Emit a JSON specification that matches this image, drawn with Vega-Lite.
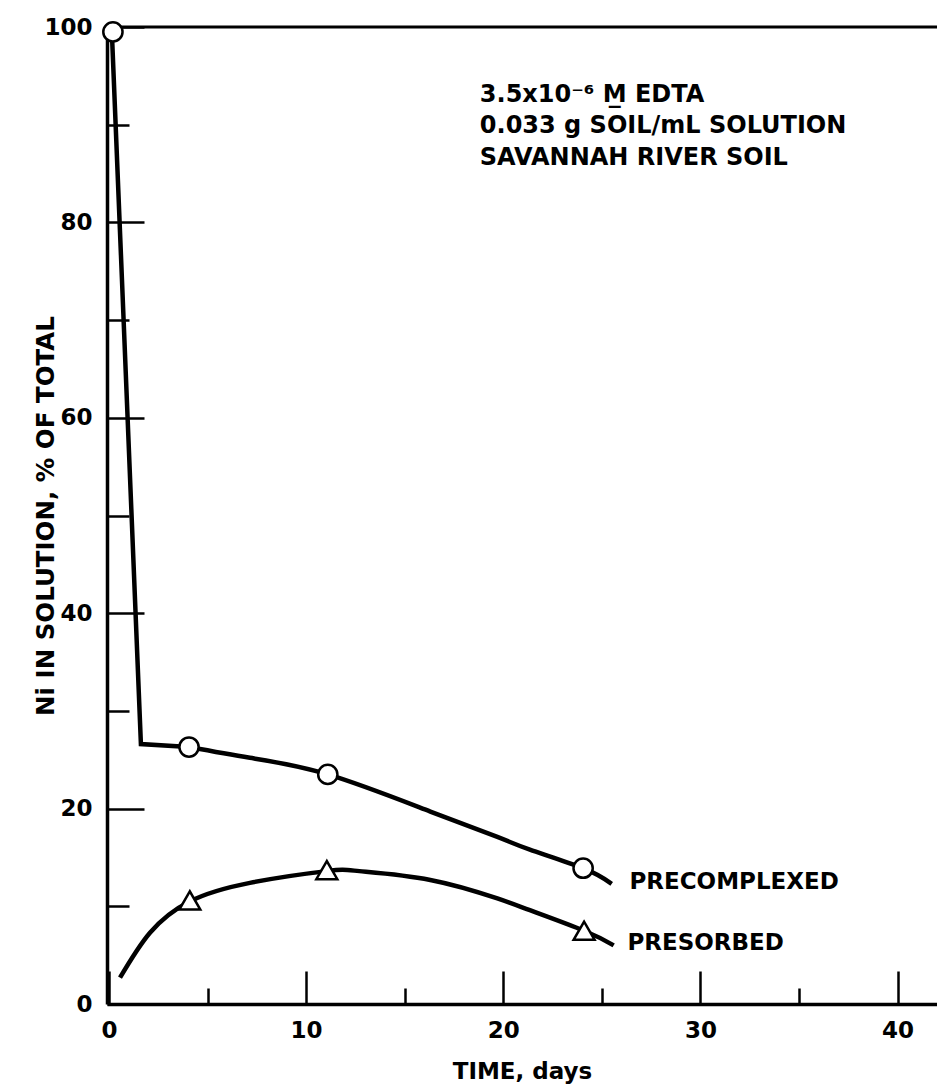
{
  "$schema": "https://vega.github.io/schema/vega-lite/v6.json",
  "width": 830,
  "height": 977,
  "autosize": {"type": "none"},
  "padding": {"left": 107, "top": 27, "right": 0, "bottom": 84},
  "background": "white",
  "config": {
    "view": {"stroke": null},
    "font": "DejaVu Sans"
  },
  "datasets": {
    "frame": [{"level": 100}],
    "drop": [
      {"t": 0.15, "pct": 99.3},
      {"t": 1.62, "pct": 26.6},
      {"t": 4.06, "pct": 26.3}
    ],
    "curves": [
      {"series": "PRECOMPLEXED", "t": 4.06, "pct": 26.3},
      {"series": "PRECOMPLEXED", "t": 7.15, "pct": 25.2},
      {"series": "PRECOMPLEXED", "t": 11.1, "pct": 23.5},
      {"series": "PRECOMPLEXED", "t": 16.3, "pct": 19.7},
      {"series": "PRECOMPLEXED", "t": 19.7, "pct": 17.1},
      {"series": "PRECOMPLEXED", "t": 21.35, "pct": 15.8},
      {"series": "PRECOMPLEXED", "t": 24.05, "pct": 13.9},
      {"series": "PRECOMPLEXED", "t": 25.5, "pct": 12.3},
      {"series": "PRESORBED", "t": 0.56, "pct": 2.7},
      {"series": "PRESORBED", "t": 2.08, "pct": 7.3},
      {"series": "PRESORBED", "t": 4.1, "pct": 10.5},
      {"series": "PRESORBED", "t": 7.15, "pct": 12.4},
      {"series": "PRESORBED", "t": 11.05, "pct": 13.6},
      {"series": "PRESORBED", "t": 12.7, "pct": 13.6},
      {"series": "PRESORBED", "t": 16.3, "pct": 12.7},
      {"series": "PRESORBED", "t": 19.7, "pct": 10.8},
      {"series": "PRESORBED", "t": 21.35, "pct": 9.6},
      {"series": "PRESORBED", "t": 24.1, "pct": 7.5},
      {"series": "PRESORBED", "t": 25.6, "pct": 6.0}
    ],
    "points": [
      {"series": "PRECOMPLEXED", "t": 0.2, "pct": 99.5},
      {"series": "PRECOMPLEXED", "t": 4.06, "pct": 26.3},
      {"series": "PRECOMPLEXED", "t": 11.1, "pct": 23.5},
      {"series": "PRECOMPLEXED", "t": 24.05, "pct": 13.9},
      {"series": "PRESORBED", "t": 4.1, "pct": 10.6},
      {"series": "PRESORBED", "t": 11.05, "pct": 13.7},
      {"series": "PRESORBED", "t": 24.1, "pct": 7.5}
    ],
    "labels": [
      {"label": "PRECOMPLEXED", "t": 26.4, "pct": 11.8},
      {"label": "PRESORBED", "t": 26.3, "pct": 5.5}
    ],
    "notes": [
      {"note": "3.5x10⁻⁶ M̲ EDTA", "t": 18.81, "pct": 92.3},
      {"note": "0.033 g SOIL/mL SOLUTION", "t": 18.81, "pct": 89.1},
      {"note": "SAVANNAH RIVER SOIL", "t": 18.81, "pct": 85.9}
    ]
  },
  "resolve": {"axis": {"x": "independent", "y": "independent"}},
  "layer": [
    {
      "data": {"name": "frame"},
      "mark": {"type": "rule", "color": "black", "strokeWidth": 3},
      "encoding": {
        "y": {"field": "level", "type": "quantitative", "scale": {"domain": [0, 100], "nice": false, "zero": false}, "axis": null}
      }
    },
    {
      "data": {"name": "drop"},
      "mark": {"type": "line", "interpolate": "linear", "color": "black", "strokeWidth": 4.5, "strokeJoin": "miter"},
      "encoding": {
        "x": {"field": "t", "type": "quantitative", "scale": {"domain": [-0.1, 42], "nice": false, "zero": false}, "axis": null},
        "y": {"field": "pct", "type": "quantitative", "scale": {"domain": [0, 100], "nice": false, "zero": false}, "axis": null}
      }
    },
    {
      "data": {"name": "curves"},
      "mark": {"type": "line", "interpolate": "natural", "color": "black", "strokeWidth": 4.5},
      "encoding": {
        "detail": {"field": "series"},
        "x": {
          "field": "t",
          "type": "quantitative",
          "scale": {"domain": [-0.1, 42], "nice": false, "zero": false},
          "axis": {
            "orient": "bottom",
            "values": [0, 10, 20, 30, 40],
            "tickSize": -33,
            "tickWidth": 2.5,
            "tickColor": "black",
            "domainWidth": 3.5,
            "domainColor": "black",
            "grid": false,
            "labelFlush": false,
            "labelOverlap": false,
            "labelFont": "DejaVu Sans",
            "labelFontWeight": "bold",
            "labelFontSize": 23,
            "labelColor": "black",
            "labelPadding": 48,
            "title": "TIME, days",
            "titleFont": "DejaVu Sans",
            "titleFontWeight": "bold",
            "titleFontSize": 23,
            "titleColor": "black",
            "titlePadding": 18
          }
        },
        "y": {
          "field": "pct",
          "type": "quantitative",
          "scale": {"domain": [0, 100], "nice": false, "zero": false},
          "axis": {
            "orient": "left",
            "values": [0, 20, 40, 60, 80, 100],
            "tickSize": -37,
            "tickWidth": 2.5,
            "tickColor": "black",
            "domainWidth": 3.5,
            "domainColor": "black",
            "grid": false,
            "labelFlush": false,
            "labelOverlap": false,
            "labelFont": "DejaVu Sans",
            "labelFontWeight": "bold",
            "labelFontSize": 23,
            "labelColor": "black",
            "labelPadding": 52,
            "title": "Ni IN SOLUTION, % OF TOTAL",
            "titleFont": "DejaVu Sans",
            "titleFontWeight": "bold",
            "titleFontSize": 24.5,
            "titleColor": "black",
            "titlePadding": -15
          }
        }
      }
    },
    {
      "data": {"name": "points"},
      "transform": [{"filter": "datum.series === 'PRECOMPLEXED'"}],
      "mark": {"type": "point", "shape": "circle", "fill": "white", "stroke": "black", "strokeWidth": 2.5, "opacity": 1, "fillOpacity": 1, "size": 370},
      "encoding": {
        "x": {"field": "t", "type": "quantitative", "scale": {"domain": [-0.1, 42], "nice": false, "zero": false}, "axis": null},
        "y": {"field": "pct", "type": "quantitative", "scale": {"domain": [0, 100], "nice": false, "zero": false}, "axis": null}
      }
    },
    {
      "data": {"name": "points"},
      "transform": [{"filter": "datum.series === 'PRESORBED'"}],
      "mark": {"type": "point", "shape": "triangle-up", "fill": "white", "stroke": "black", "strokeWidth": 2.5, "opacity": 1, "fillOpacity": 1, "size": 440},
      "encoding": {
        "x": {"field": "t", "type": "quantitative", "scale": {"domain": [-0.1, 42], "nice": false, "zero": false}, "axis": null},
        "y": {"field": "pct", "type": "quantitative", "scale": {"domain": [0, 100], "nice": false, "zero": false}, "axis": null}
      }
    },
    {
      "data": {"name": "labels"},
      "mark": {"type": "text", "align": "left", "baseline": "alphabetic", "font": "DejaVu Sans", "fontWeight": "bold", "fontSize": 23, "color": "black"},
      "encoding": {
        "x": {
          "field": "t",
          "type": "quantitative",
          "scale": {"domain": [-0.1, 42], "nice": false, "zero": false},
          "axis": {
            "orient": "bottom",
            "values": [5, 15, 25, 35],
            "tickSize": -16,
            "tickWidth": 2.5,
            "tickColor": "black",
            "domain": false,
            "labels": false,
            "grid": false,
            "title": null
          }
        },
        "y": {
          "field": "pct",
          "type": "quantitative",
          "scale": {"domain": [0, 100], "nice": false, "zero": false},
          "axis": {
            "orient": "left",
            "values": [10, 30, 50, 70, 90],
            "tickSize": -22,
            "tickWidth": 2.5,
            "tickColor": "black",
            "domain": false,
            "labels": false,
            "grid": false,
            "title": null
          }
        },
        "text": {"field": "label"}
      }
    },
    {
      "data": {"name": "notes"},
      "mark": {"type": "text", "align": "left", "baseline": "alphabetic", "font": "DejaVu Sans", "fontWeight": "bold", "fontSize": 24, "color": "black"},
      "encoding": {
        "x": {"field": "t", "type": "quantitative", "scale": {"domain": [-0.1, 42], "nice": false, "zero": false}, "axis": null},
        "y": {"field": "pct", "type": "quantitative", "scale": {"domain": [0, 100], "nice": false, "zero": false}, "axis": null},
        "text": {"field": "note"}
      }
    }
  ]
}
